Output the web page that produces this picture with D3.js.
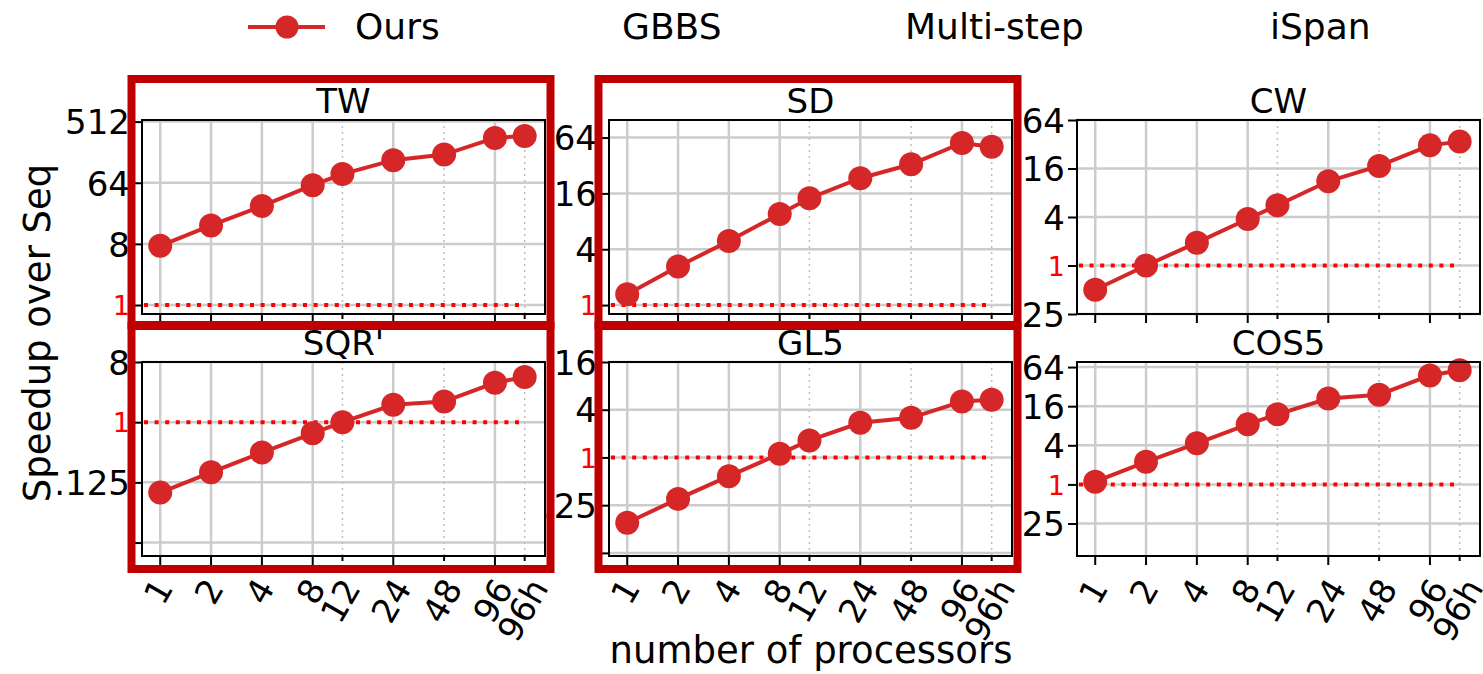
<!DOCTYPE html>
<html>
<head>
<meta charset="utf-8">
<script src="https://cdn.jsdelivr.net/npm/d3@7"></script>
<style>
  html, body { margin: 0; padding: 0; background: #fff; }
  svg { display: block; font-family: "DejaVu Sans", sans-serif; }
</style>
</head>
<body>
<svg id="chart" width="1483" height="674"></svg>
<script>
// ---------------- data ----------------
const procs = [1, 2, 4, 8, 12, 24, 48, 96, 144];
const procLabels = ["1", "2", "4", "8", "12", "24", "48", "96", "96h"];
const procMajor = [true, true, true, true, false, true, false, true, false];

const seriesNames = ["Ours", "GBBS", "Multi-step", "iSpan"];

const panelTitles = ["TW", "SD", "CW", "SQR'", "GL5", "COS5"];

const twValues   = [7.5, 15, 29, 59, 86, 138, 167, 294, 315];
const sdValues   = [1.31, 2.6, 4.9, 9.6, 14.2, 23.3, 33, 56, 51];
const cwValues   = [0.5, 1.0, 1.92, 3.78, 5.6, 11.1, 17.2, 31, 34.5];
const sqrValues  = [0.088, 0.177, 0.35, 0.68, 1.0, 1.82, 2.04, 3.9, 4.76];
const gl5Values  = [0.15, 0.30, 0.58, 1.11, 1.64, 2.74, 3.16, 5.07, 5.33];
const cos5Values = [1.1, 2.23, 4.3, 8.4, 12, 21, 24, 47.5, 57];

const twTicks   = [1, 8, 64, 512];
const twTickLabels = ["1", "8", "64", "512"];
const sdTicks   = [1, 4, 16, 64];
const sdTickLabels = ["1", "4", "16", "64"];
const cwTicks   = [0.25, 1, 4, 16, 64];
const cwTickLabels = [".25", "1", "4", "16", "64"];
const sqrTicks  = [1 / 64, 0.125, 1, 8];
const sqrTickLabels = ["", ".125", "1", "8"];
const gl5Ticks  = [1 / 16, 0.25, 1, 4, 16];
const gl5TickLabels = ["", ".25", "1", "4", "16"];
const cos5Ticks = [0.25, 1, 4, 16, 64];
const cos5TickLabels = [".25", "1", "4", "16", "64"];

const twDomain   = [0.737, 541];
const sdDomain   = [0.801, 99.0];
const cwDomain   = [0.25, 64];
const sqrDomain  = [0.00982, 8];
const gl5Domain  = [0.0571, 16];
const cos5Domain = [0.0791, 76.6];

const xDomain = [0.78, 190];
const highlighted = [true, true, false, true, true, false];

// ---------------- layout ----------------
const svg = d3.select("#chart");
const colLeft = [142, 609, 1077];
const rowTop = [120, 362];
const pw = 403, ph = 194;
const lineColor = "#d62728";
const frameColor = "#c00000";
const gridColor = "#cccccc";

const panels = [
  {title: panelTitles[0], values: twValues, ticks: twTicks, labels: twTickLabels, domain: twDomain},
  {title: panelTitles[1], values: sdValues, ticks: sdTicks, labels: sdTickLabels, domain: sdDomain},
  {title: panelTitles[2], values: cwValues, ticks: cwTicks, labels: cwTickLabels, domain: cwDomain},
  {title: panelTitles[3], values: sqrValues, ticks: sqrTicks, labels: sqrTickLabels, domain: sqrDomain},
  {title: panelTitles[4], values: gl5Values, ticks: gl5Ticks, labels: gl5TickLabels, domain: gl5Domain},
  {title: panelTitles[5], values: cos5Values, ticks: cos5Ticks, labels: cos5TickLabels, domain: cos5Domain}
];

panels.forEach((p, i) => {
  const row = Math.floor(i / 3), col = i % 3;
  const left = colLeft[col], top = rowTop[row];
  const g = svg.append("g").attr("transform", `translate(${left},${top})`);
  const x = d3.scaleLog().base(2).domain(xDomain).range([0, pw]);
  const y = d3.scaleLog().base(2).domain(p.domain).range([ph, 0]);

  // grid
  g.selectAll(".hgrid").data(p.ticks).enter().append("line")
    .attr("x1", 0).attr("x2", pw)
    .attr("y1", d => y(d)).attr("y2", d => y(d))
    .attr("stroke", gridColor).attr("stroke-width", 2.5);
  g.selectAll(".vgrid").data(procs).enter().append("line")
    .attr("x1", d => x(d)).attr("x2", d => x(d))
    .attr("y1", 0).attr("y2", ph)
    .attr("stroke", (d, k) => procMajor[k] ? gridColor : "#bdbdbd")
    .attr("stroke-width", (d, k) => procMajor[k] ? 2.5 : 1.5)
    .attr("stroke-dasharray", (d, k) => procMajor[k] ? null : "2,4");

  // reference line at 1
  g.append("line")
    .attr("x1", 2).attr("x2", x(procs[procs.length - 1]))
    .attr("y1", y(1)).attr("y2", y(1))
    .attr("stroke", "#ff0000").attr("stroke-width", 4)
    .attr("stroke-dasharray", "4,6.6");

  // series line + markers
  const pts = procs.map((d, k) => [x(d), y(p.values[k])]);
  g.append("path").attr("d", d3.line()(pts))
    .attr("fill", "none").attr("stroke", lineColor).attr("stroke-width", 4);
  g.selectAll(".pt").data(pts).enter().append("circle")
    .attr("cx", d => d[0]).attr("cy", d => d[1]).attr("r", 12)
    .attr("fill", lineColor);

  // spines
  g.append("rect").attr("x", 0).attr("y", 0).attr("width", pw).attr("height", ph)
    .attr("fill", "none").attr("stroke", "#000").attr("stroke-width", 2);

  // y axis
  const yAxis = d3.axisLeft(y).tickValues(p.ticks)
    .tickFormat((d, k) => p.labels[k]).tickSize(9).tickPadding(3);
  const ya = g.append("g").call(yAxis);
  ya.select(".domain").remove();
  ya.selectAll(".tick line").attr("stroke", "#000").attr("stroke-width", 2);
  ya.selectAll(".tick text")
    .attr("font-family", "DejaVu Sans").attr("font-size", 34)
    .attr("fill", "#000").attr("dy", "0.36em");
  ya.selectAll(".tick text").filter(d => d === 1)
    .attr("fill", "#ff0000").attr("font-size", 27);

  // x ticks
  g.selectAll(".xt").data(procs).enter().append("line")
    .attr("x1", d => x(d)).attr("x2", d => x(d))
    .attr("y1", ph).attr("y2", (d, k) => ph + (procMajor[k] ? 9 : 5))
    .attr("stroke", "#000").attr("stroke-width", 2);

  if (row === 1) {
    const fs = 34, H = fs * 1.17;
    const s = Math.sin(Math.PI / 3), c = Math.cos(Math.PI / 3);
    procs.forEach((d, k) => {
      const t = g.append("text").text(procLabels[k])
        .attr("font-size", fs).attr("text-anchor", "middle")
        .attr("dominant-baseline", "central");
      const w = t.node().getComputedTextLength();
      const hb = w * s + H * c;
      t.attr("transform", `translate(${x(d) - 2},${ph + 16 + hb / 2}) rotate(-60)`);
    });
  }

  // title
  g.append("text").attr("x", pw / 2).attr("y", -7)
    .attr("text-anchor", "middle").attr("font-size", 34).text(p.title);
});

// frames around highlighted panels
panels.forEach((p, i) => {
  if (!highlighted[i]) return;
  const row = Math.floor(i / 3), col = i % 3;
  const left = colLeft[col];
  const y0 = row === 0 ? 79 : 326;
  const y1 = row === 0 ? 325 : 569;
  svg.append("rect")
    .attr("x", left - 10.5).attr("y", y0)
    .attr("width", pw + 16).attr("height", y1 - y0)
    .attr("fill", "none").attr("stroke", frameColor).attr("stroke-width", 8);
});

// axis labels
svg.append("text").attr("x", 811).attr("y", 663)
  .attr("text-anchor", "middle").attr("font-size", 37).text("number of processors");
svg.append("text").attr("transform", "translate(37,333) rotate(-90)")
  .attr("text-anchor", "middle").attr("dominant-baseline", "central")
  .attr("font-size", 37).text("Speedup over Seq");

// legend
const legX = [355, 622, 905, 1270];
svg.append("line").attr("x1", 248).attr("x2", 325).attr("y1", 27).attr("y2", 27)
  .attr("stroke", lineColor).attr("stroke-width", 4);
svg.append("circle").attr("cx", 287).attr("cy", 27).attr("r", 11.5).attr("fill", lineColor);
seriesNames.forEach((n, k) => {
  svg.append("text").attr("x", legX[k]).attr("y", 39)
    .attr("font-size", 36).text(n);
});
</script>
</body>
</html>
